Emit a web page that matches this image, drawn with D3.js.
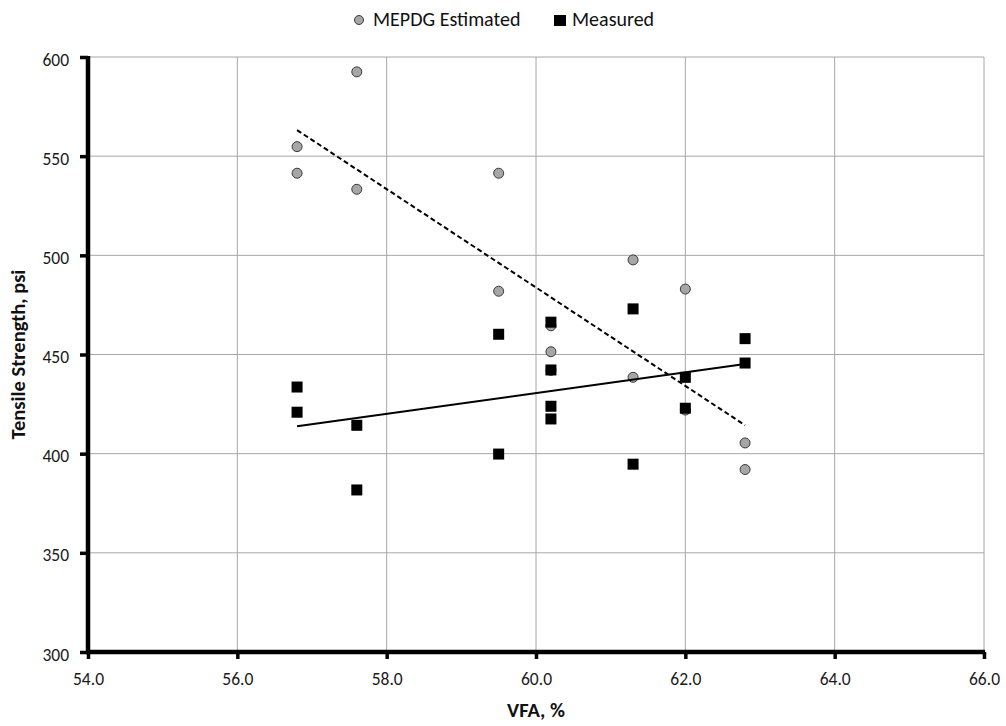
<!DOCTYPE html>
<html>
<head>
<meta charset="utf-8">
<script src="https://cdn.jsdelivr.net/npm/d3@7"></script>
<style>
  body { margin: 0; background: #fff; }
  svg { display: block; font-family: Carlito, Calibri, Lato, "Open Sans", sans-serif; }
</style>
</head>
<body>
<svg id="chart" width="1006" height="726"></svg>
<script>
// VFA (%) for each specimen
const mepdgVFA = [56.8, 56.8, 57.6, 57.6, 59.5, 59.5, 60.2, 60.2, 60.2, 61.3, 61.3, 62.0, 62.0, 62.8, 62.8];
// MEPDG estimated tensile strength (psi)
const mepdgTS  = [554.8, 541.4, 592.5, 533.3, 541.4, 481.9, 464.5, 451.4, 442.0, 497.7, 438.5, 483.0, 422.0, 405.4, 392.0];

const measVFA = [56.8, 56.8, 57.6, 57.6, 59.5, 59.5, 60.2, 60.2, 60.2, 60.2, 61.3, 61.3, 62.0, 62.0, 62.8, 62.8];
// Measured tensile strength (psi)
const measTS  = [433.6, 420.9, 414.3, 381.7, 460.2, 399.8, 466.3, 442.2, 423.9, 417.5, 473.0, 394.7, 438.5, 422.9, 458.0, 445.7];

const xTicks = [54, 56, 58, 60, 62, 64, 66];
const yTicks = [300, 350, 400, 450, 500, 550, 600];

const svg = d3.select("#chart");
const pLeft = 88, pRight = 984, pTop = 57, pBottom = 652;

const x = d3.scaleLinear().domain([54, 66]).range([pLeft, pRight]);
const y = d3.scaleLinear().domain([300, 600]).range([pBottom, pTop]);

// gridlines
const grid = svg.append("g").attr("stroke", "#a6a6a6").attr("stroke-width", 1);
grid.selectAll("line.v").data(xTicks.slice(1)).join("line")
  .attr("x1", d => x(d)).attr("x2", d => x(d))
  .attr("y1", pTop).attr("y2", pBottom);
grid.selectAll("line.h").data(yTicks.slice(1)).join("line")
  .attr("x1", pLeft).attr("x2", pRight)
  .attr("y1", d => y(d)).attr("y2", d => y(d));

// axes
const xAxis = svg.append("g").attr("transform", `translate(0,${pBottom})`)
  .call(d3.axisBottom(x).tickValues(xTicks).tickFormat(d3.format(".1f")).tickSize(7).tickSizeOuter(0));
const yAxis = svg.append("g").attr("transform", `translate(${pLeft},0)`)
  .call(d3.axisLeft(y).tickValues(yTicks).tickSize(8).tickSizeOuter(0));

[xAxis, yAxis].forEach(g => {
  g.select(".domain").attr("stroke", "#000").attr("stroke-width", 4.5);
  g.selectAll(".tick line").attr("stroke", "#000").attr("stroke-width", 3.5);
  g.selectAll(".tick text").attr("fill", "#1a1a1a").attr("font-size", 17.5)
    .attr("font-family", "Carlito, Calibri, Lato, sans-serif");
});
xAxis.selectAll(".tick text").attr("y", 33).attr("dy", 0);
yAxis.selectAll(".tick text").attr("x", -19).attr("dy", 8);
// extend the axis lines slightly so the corner is closed
xAxis.select(".domain").attr("d", `M${pLeft - 2},0H${pRight + 1}`);
yAxis.select(".domain").attr("d", `M0,${pTop - 1}V${pBottom + 2}`);

// axis titles
svg.append("text").attr("x", 536).attr("y", 717).attr("text-anchor", "middle")
  .attr("font-size", 20.5).attr("font-weight", "bold").attr("fill", "#111").text("VFA, %");
svg.append("text").attr("transform", `translate(25,${(pTop + pBottom) / 2}) rotate(-90)`)
  .attr("text-anchor", "middle").attr("font-size", 20.5).attr("font-weight", "bold")
  .attr("fill", "#111").text("Tensile Strength, psi");

// linear least-squares fit
function fit(xs, ys) {
  const mx = d3.mean(xs), my = d3.mean(ys);
  let sxy = 0, sxx = 0;
  xs.forEach((v, i) => { sxy += (v - mx) * (ys[i] - my); sxx += (v - mx) ** 2; });
  const b = sxy / sxx, a = my - b * mx;
  const [x0, x1] = d3.extent(xs);
  return [[x0, a + b * x0], [x1, a + b * x1]];
}

// MEPDG points
svg.append("g").selectAll("circle").data(mepdgVFA.map((v, i) => [v, mepdgTS[i]])).join("circle")
  .attr("cx", d => x(d[0])).attr("cy", d => y(d[1])).attr("r", 5)
  .attr("fill", "#a6a6a6").attr("stroke", "#3a3a3a").attr("stroke-width", 1);

// Measured points
const sq = 11;
svg.append("g").selectAll("rect").data(measVFA.map((v, i) => [v, measTS[i]])).join("rect")
  .attr("x", d => x(d[0]) - sq / 2).attr("y", d => y(d[1]) - sq / 2)
  .attr("width", sq).attr("height", sq).attr("fill", "#000");

// trend lines
const line = d3.line().x(d => x(d[0])).y(d => y(d[1]));
svg.append("path").attr("d", line(fit(mepdgVFA, mepdgTS)))
  .attr("fill", "none").attr("stroke", "#000").attr("stroke-width", 2).attr("stroke-dasharray", "5,3");
svg.append("path").attr("d", line(fit(measVFA, measTS)))
  .attr("fill", "none").attr("stroke", "#000").attr("stroke-width", 2);

// legend
const lg = svg.append("g").attr("font-size", 20).attr("fill", "#111");
lg.append("circle").attr("cx", 359).attr("cy", 20).attr("r", 4.5)
  .attr("fill", "#a6a6a6").attr("stroke", "#3a3a3a").attr("stroke-width", 1);
lg.append("text").attr("x", 373).attr("y", 26).text("MEPDG Estimated");
lg.append("rect").attr("x", 554).attr("y", 15).attr("width", 12).attr("height", 11).attr("fill", "#000");
lg.append("text").attr("x", 572).attr("y", 26).text("Measured");
</script>
</body>
</html>
